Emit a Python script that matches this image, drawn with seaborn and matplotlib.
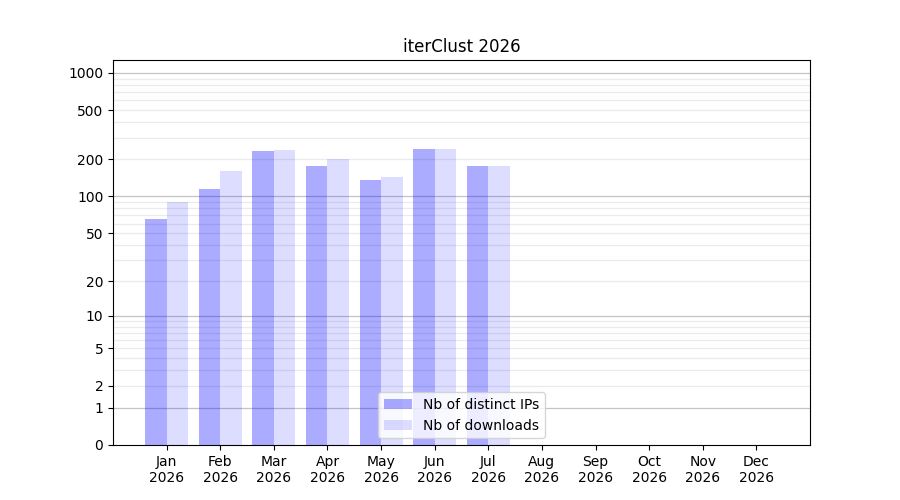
import numpy as np
import pandas as pd
import matplotlib
matplotlib.use("Agg")
import matplotlib.pyplot as plt
import seaborn as sns

# podaci po mjesecima
months = ["Jan", "Feb", "Mar", "Apr", "May", "Jun", "Jul", "Aug", "Sep", "Oct", "Nov", "Dec"]
distinct_ips = [65, 115, 234, 177, 136, 243, 177, 0, 0, 0, 0, 0]
downloads = [90, 161, 238, 201, 144, 243, 177, 0, 0, 0, 0, 0]
tick_vals = [0, 1, 2, 5, 10, 20, 50, 100, 200, 500, 1000]

labels = [m + "\n2026" for m in months]
df = pd.DataFrame({
    "month": labels * 2,
    "count": distinct_ips + downloads,
    "series": ["Nb of distinct IPs"] * 12 + ["Nb of downloads"] * 12,
})

sns.set_style("white", {"text.color": "black", "axes.labelcolor": "black",
                        "xtick.color": "black", "ytick.color": "black"})
plt.rcParams['font.family'] = ['DejaVu Sans']

fig, ax = plt.subplots(figsize=(9, 5), dpi=100)
fig.subplots_adjust(left=0.1256, right=0.9, top=0.88, bottom=0.11)

ax.set_yscale('function', functions=(lambda x: np.log10(1 + np.clip(x, 0, None)),
                                     lambda y: 10 ** y - 1))

sns.barplot(data=df, x="month", y="count", hue="series", order=labels,
            palette=[(0, 0, 1, 0.33), (0, 0, 1, 0.135)], saturation=1,
            width=0.8, linewidth=0, edgecolor="none", ax=ax, zorder=2)

# mreza
minor = [m * 10 ** e for e in range(0, 3) for m in range(2, 10)]
for v in minor:
    ax.axhline(v, color="#ebebeb", lw=0.9, zorder=0)
for v in [1, 10, 100, 1000]:
    ax.axhline(v, color="#c4c4c4", lw=0.9, zorder=0)

ax.set_ylim(0, 1270)
ax.set_xlim(-1, 12)
ax.set_yticks(tick_vals)
ax.set_yticklabels([str(v) for v in tick_vals])
ax.yaxis.set_minor_locator(matplotlib.ticker.NullLocator())
ax.tick_params(axis="both", which="major", length=3.5, width=0.8, direction="out",
               left=True, bottom=True, labelsize=10, colors="black")
for s in ax.spines.values():
    s.set_visible(True)
    s.set_color("black")
    s.set_linewidth(0.8)

ax.set_xlabel("")
ax.set_ylabel("")
ax.set_title("iterClust 2026", fontsize=12, color="black")
ax.legend(loc="lower center", frameon=True, fontsize=10)

fig.savefig("out.png")
